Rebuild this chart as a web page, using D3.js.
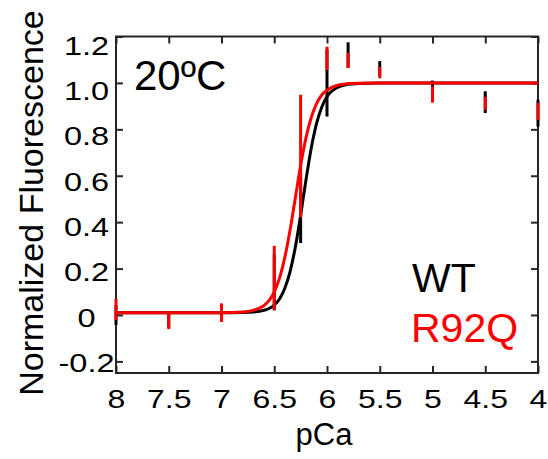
<!DOCTYPE html>
<html>
<head>
<meta charset="utf-8">
<script src="https://cdn.jsdelivr.net/npm/d3@7"></script>
<style>
  html, body { margin: 0; padding: 0; background: #ffffff; }
  svg { display: block; font-family: "Liberation Sans", Arial, sans-serif; }
</style>
</head>
<body>
<svg id="chart" width="548" height="459"></svg>
<script>
// ---- data ----
const pCa = [8, 7.5, 7, 6.5, 6.25, 6, 5.8, 5.5, 5, 4.5, 4];
const wtMean = [0.0, -0.02, 0.0, 0.14, 0.45, 1.0, 1.12, 1.062, 0.97, 0.917, 0.87];
const wtErr  = [0.043, 0.033, 0.02, 0.12, 0.14, 0.145, 0.055, 0.032, 0.04, 0.047, 0.058];
const r92qMean = [0.024, -0.026, 0.01, 0.16, 0.685, 1.106, 1.097, 1.045, 0.95, 0.912, 0.877];
const r92qErr  = [0.046, 0.035, 0.04, 0.138, 0.264, 0.05, 0.033, 0.025, 0.035, 0.028, 0.037];

// fitted curves
const fitPCa = [8, 7, 6.8, 6.7, 6.6, 6.55, 6.5, 6.45, 6.4, 6.35, 6.3, 6.25, 6.2, 6.15, 6.1, 6.05, 6.0, 5.9, 5.8, 5.7, 5.5, 5, 4];
const wtFit   = [0.01, 0.01, 0.011, 0.013, 0.02, 0.028, 0.043, 0.069, 0.115, 0.187, 0.293, 0.43, 0.58, 0.717, 0.823, 0.895, 0.941, 0.981, 0.994, 0.998, 1, 1, 1];
const r92qFit = [0.01, 0.01, 0.013, 0.02, 0.04, 0.062, 0.10, 0.159, 0.248, 0.366, 0.505, 0.644, 0.762, 0.85, 0.91, 0.948, 0.969, 0.99, 0.997, 0.999, 1, 1, 1];

const xTicks = [8, 7.5, 7, 6.5, 6, 5.5, 5, 4.5, 4];
const yTicks = [1.2, 1.0, 0.8, 0.6, 0.4, 0.2, 0, -0.2];
const yTickLabels = ["1.2", "1.0", "0.8", "0.6", "0.4", "0.2", "0", "-0.2"];
const xTickLabels = ["8", "7.5", "7", "6.5", "6", "5.5", "5", "4.5", "4"];

// ---- layout ----
const L = 116, R = 538, T = 36.5, B = 373;
const svg = d3.select("#chart");
const x = d3.scaleLinear().domain([8, 4]).range([L, R]);
const y = d3.scaleLinear().domain([-0.25, 1.2]).range([B, T]);
// tick labels in the reference sit on a slightly tighter spacing than the ticks
const yLab = d3.scaleLinear().domain([0, 1.2]).range([317, 45]);
const axisColor = "#262626";

function styleAxis(g) {
  g.select(".domain").remove();
  g.selectAll(".tick line").attr("stroke", axisColor).attr("stroke-width", 2);
}
const gx = svg.append("g").attr("transform", `translate(0,${B})`)
  .call(d3.axisBottom(x).tickValues(xTicks).tickSize(-7)
        .tickFormat((d, i) => xTickLabels[i]));
styleAxis(gx);
gx.selectAll(".tick text")
  .attr("y", null).attr("dy", null)
  .attr("fill", "#000").attr("font-size", 25)
  .attr("text-anchor", "middle")
  .attr("transform", "translate(0,35) scale(1.28,1)");

svg.append("g").attr("transform", `translate(0,${T})`)
  .call(d3.axisTop(x).tickValues(xTicks).tickSize(-7).tickFormat(""))
  .call(styleAxis);

const gy = svg.append("g").attr("transform", `translate(${L},0)`)
  .call(d3.axisLeft(y).tickValues(yTicks).tickSize(-7)
        .tickFormat((d, i) => yTickLabels[i]));
styleAxis(gy);
gy.selectAll(".tick text")
  .attr("x", null).attr("dy", "0.36em")
  .attr("fill", "#000").attr("font-size", 25)
  .attr("text-anchor", "middle")
  .attr("transform", d => `translate(-29.5,${yLab(d) - y(d)}) scale(1.3,1)`);

svg.append("g").attr("transform", `translate(${R},0)`)
  .call(d3.axisRight(y).tickValues(yTicks).tickSize(-7).tickFormat(""))
  .call(styleAxis);

svg.append("rect").attr("x", L).attr("y", T).attr("width", R - L).attr("height", B - T)
  .attr("fill", "none").attr("stroke", axisColor).attr("stroke-width", 2);

// ---- marks ----
const line = d3.line().x(d => x(d[0])).y(d => y(d[1])).curve(d3.curveMonotoneX);

function errorBars(means, errs, color) {
  svg.append("g").selectAll("line").data(pCa).join("line")
    .attr("x1", d => x(d)).attr("x2", d => x(d))
    .attr("y1", (d, i) => y(means[i] - errs[i]))
    .attr("y2", (d, i) => y(means[i] + errs[i]))
    .attr("stroke", color).attr("stroke-width", 3);
}
function fitCurve(vals, color) {
  svg.append("path").datum(fitPCa.map((p, i) => [p, vals[i]]))
    .attr("d", line).attr("fill", "none")
    .attr("stroke", color).attr("stroke-width", 3);
}
errorBars(wtMean, wtErr, "#000000");
fitCurve(wtFit, "#000000");
errorBars(r92qMean, r92qErr, "#ff0000");
fitCurve(r92qFit, "#ff0000");

// ---- texts ----
svg.append("text").attr("x", 134).attr("y", 90).attr("font-size", 42).attr("fill", "#000")
  .text("20ºC");
svg.append("text").attr("x", 412).attr("y", 292).attr("font-size", 41).attr("fill", "#000")
  .text("WT");
svg.append("text").attr("x", 411).attr("y", 342).attr("font-size", 41).attr("fill", "#ff0000")
  .text("R92Q");

svg.append("text").attr("x", 324).attr("y", 445).attr("font-size", 31)
  .attr("text-anchor", "middle").attr("fill", "#000").text("pCa");
svg.append("text").attr("transform", "translate(43,203) rotate(-90)")
  .attr("font-size", 34).attr("text-anchor", "middle").attr("fill", "#000")
  .text("Normalized Fluorescence");
</script>
</body>
</html>
